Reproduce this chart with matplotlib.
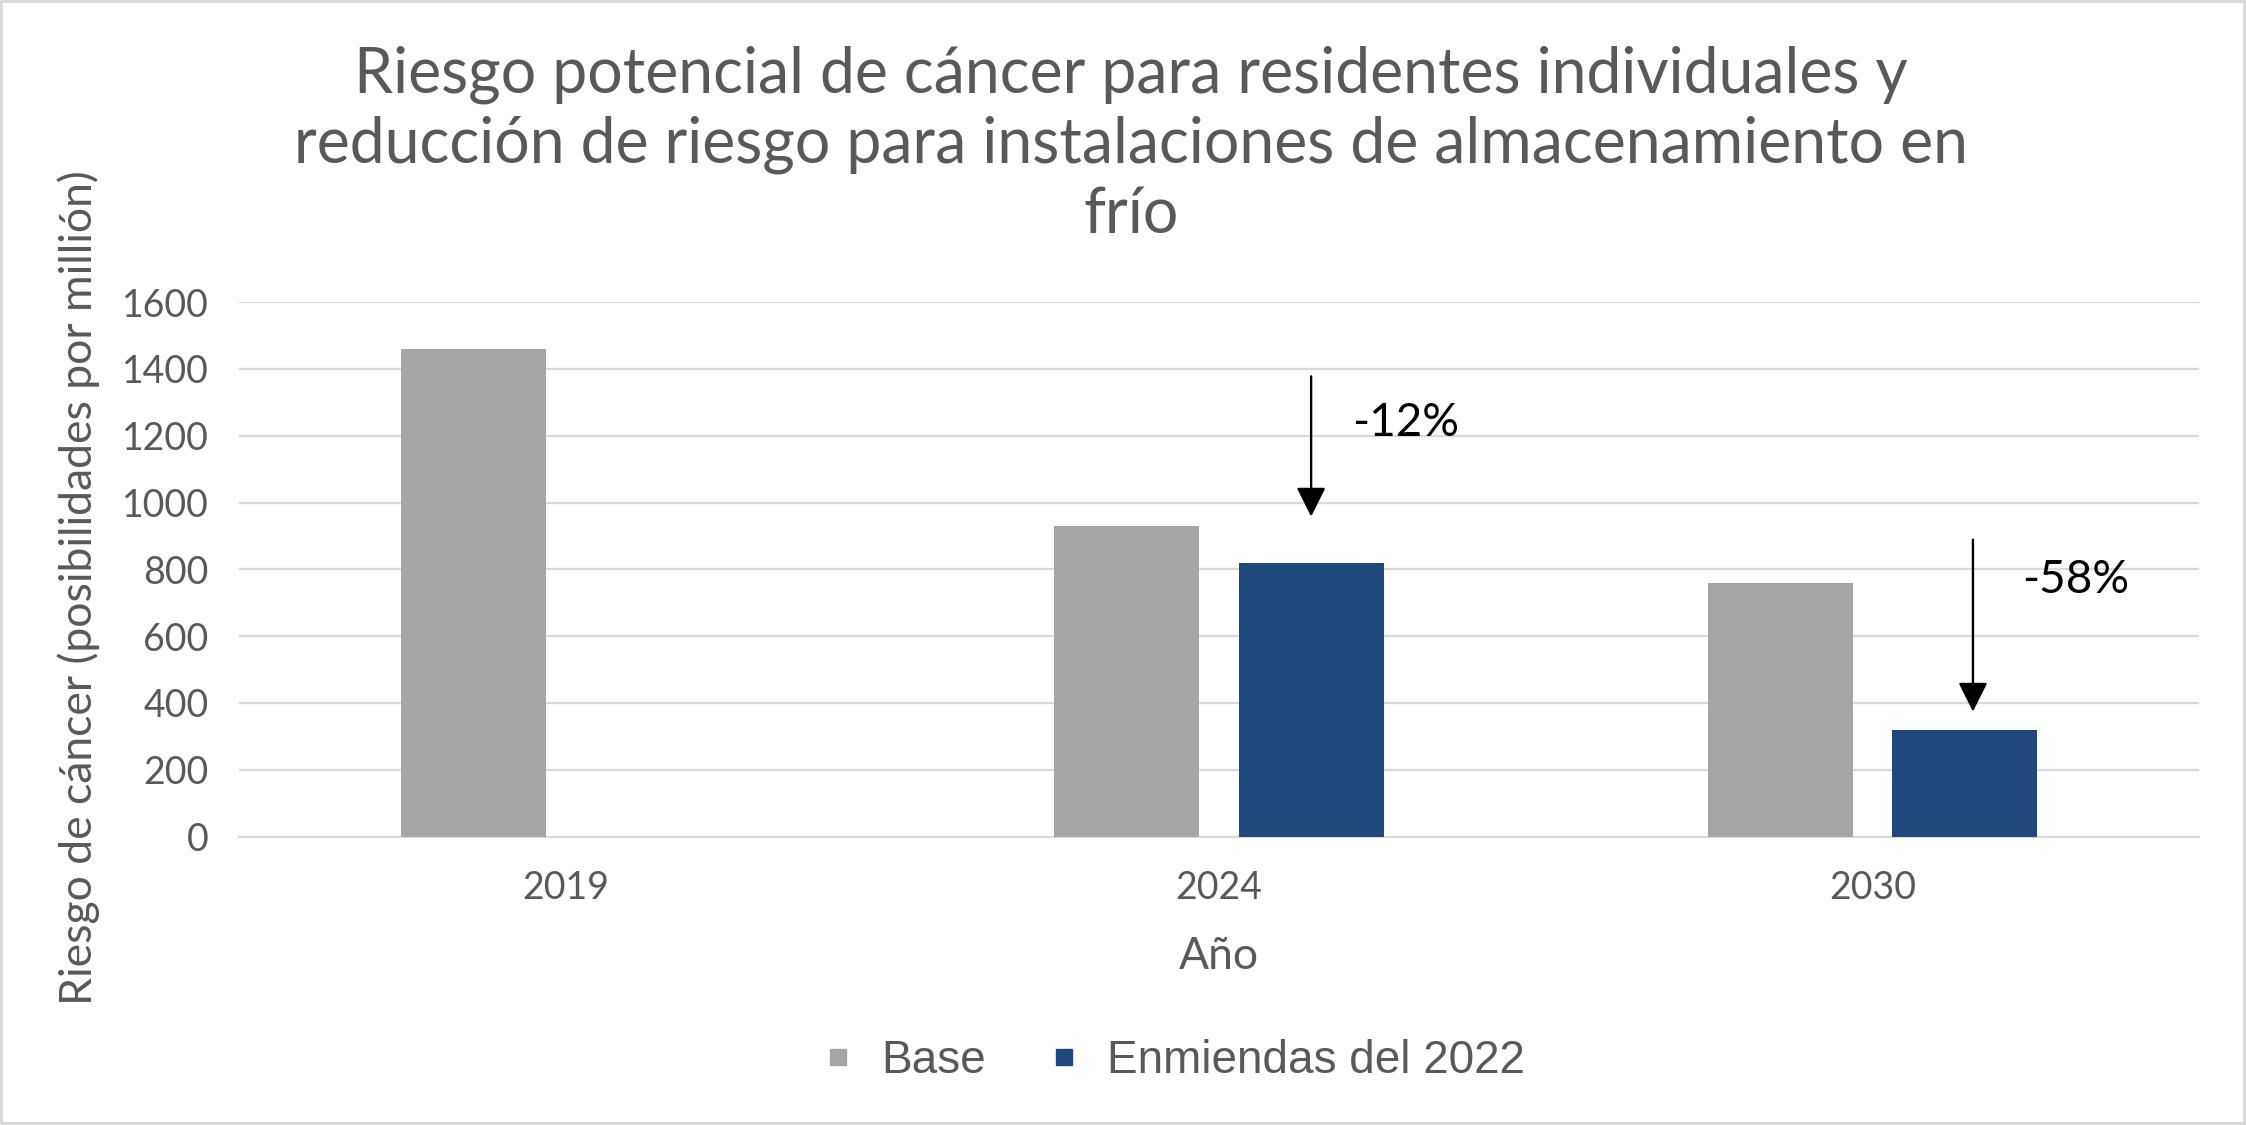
import numpy as np
import matplotlib
matplotlib.use("Agg")
import matplotlib.pyplot as plt
from matplotlib.lines import Line2D
from matplotlib.patches import Rectangle

# data
years = ["2019", "2024", "2030"]
base = [1460, 930, 760]
enmiendas = [np.nan, 818, 319]
reduction_labels = ["", "-12%", "-58%"]

title = ("Riesgo potencial de cáncer para residentes individuales y\n"
         "reducción de riesgo para instalaciones de almacenamiento en\n"
         "frío")
ylabel = "Riesgo de cáncer (posibilidades por millión)"
xlabel = "Año"

GRAY = "#a5a5a5"
BLUE = "#1f497d"
TXT = "#595959"
GRID = "#d9d9d9"

plt.rcParams["font.family"] = ["Lato", "DejaVu Sans"]

fig = plt.figure(figsize=(22.46, 11.25), dpi=100)
ax = fig.add_axes([239 / 2246, 1 - 836.5 / 1125, 1960 / 2246, 534.3 / 1125])

x = np.arange(len(years))
w = 0.222
off = 0.141
ax.bar(x - off, base, w, color=GRAY, zorder=3, label="Base")
ax.bar(x + off, enmiendas, w, color=BLUE, zorder=3, label="Enmiendas del 2022")

ax.set_xlim(-0.5, 2.5)
ax.set_ylim(0, 1600)
ax.set_yticks(np.arange(0, 1601, 200))
ax.set_xticks(x)
ax.set_xticklabels(years)
ax.grid(axis="y", color=GRID, lw=1.6, zorder=0)
for s in ["top", "right", "left"]:
    ax.spines[s].set_visible(False)
ax.spines["bottom"].set_color(GRID)
ax.spines["bottom"].set_linewidth(1.6)
ax.tick_params(length=0, labelsize=27, labelcolor=TXT)
ax.tick_params(axis="y", pad=22)
ax.tick_params(axis="x", pad=24)

ax.set_xlabel(xlabel, fontsize=32, color=TXT, labelpad=22)
fig.text(79 / 2246, 1 - 588 / 1125, ylabel, rotation=90, ha="center",
         va="center", fontsize=32, color=TXT)

fig.text(1131 / 2246, 1 - 46 / 1125, title, ha="center", va="top", fontsize=45,
         color=TXT, linespacing=1.24)

# reduction arrows
arrow_gap = [0, 140, 55]
arrow_len = [0, 420, 515]
arrow_dx = [0, 0, 0.013]
text_dx = [0, 0.063, 0.075]
text_dy = [0, 280, 395]
for i in range(1, len(years)):
    xa = x[i] + off + arrow_dx[i]
    tip = enmiendas[i] + arrow_gap[i]
    ax.annotate("", xy=(xa, tip), xytext=(xa, tip + arrow_len[i]),
                arrowprops=dict(arrowstyle="-|>,head_length=0.9,head_width=0.45",
                                mutation_scale=20, lw=1.7, color="black",
                                shrinkA=0, shrinkB=0), zorder=5)
    ax.text(xa + text_dx[i], tip + text_dy[i], reduction_labels[i],
            fontsize=33, color="black", ha="left", va="center")

handles = [Line2D([], [], marker="s", ls="", color=GRAY, markersize=12.2),
           Line2D([], [], marker="s", ls="", color=BLUE, markersize=12.2)]
fig.legend(handles, ["Base", "Enmiendas del 2022"], loc="center",
           bbox_to_anchor=(1177 / 2246, 1 - 1061 / 1125), ncol=2, frameon=False,
           prop={"family": "Liberation Sans", "size": 33}, labelcolor=TXT,
           handlelength=0.4, handletextpad=0.75, columnspacing=1.5)

fig.patches.append(Rectangle((0, 0), 1, 1, transform=fig.transFigure, fill=False,
                             edgecolor=GRID, lw=4.3, zorder=10))

fig.savefig("out.png", dpi=100)
